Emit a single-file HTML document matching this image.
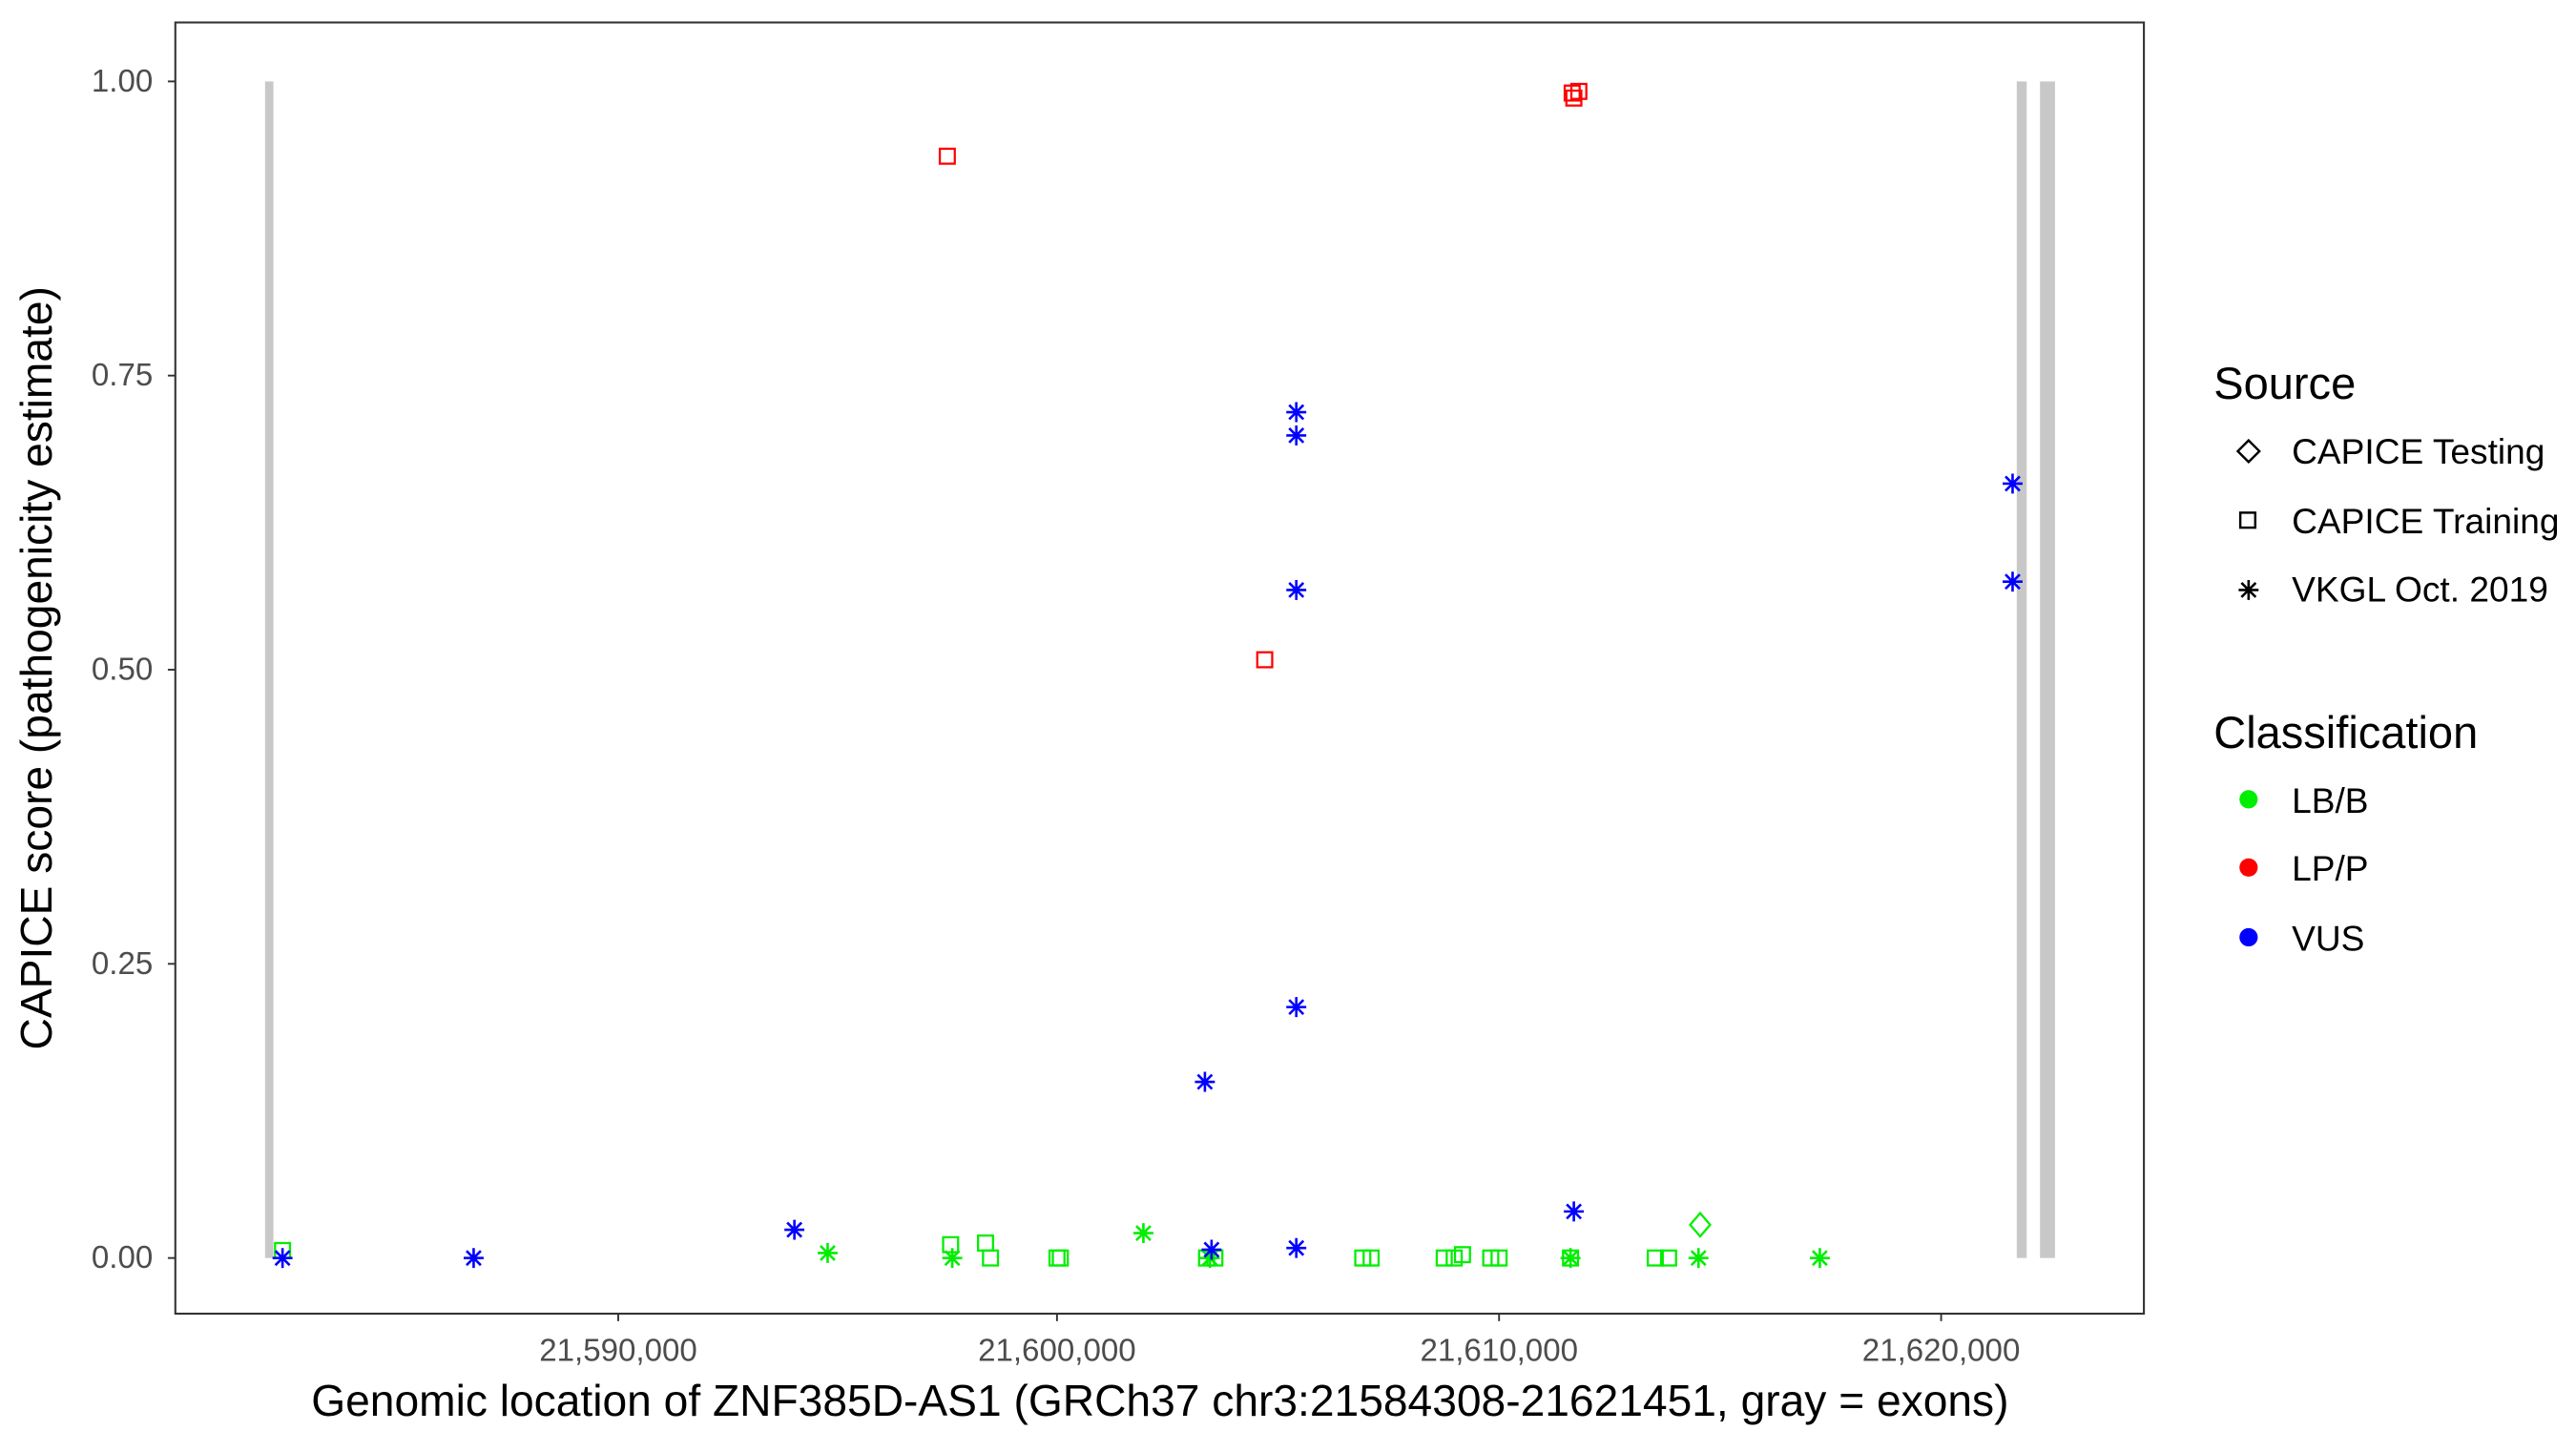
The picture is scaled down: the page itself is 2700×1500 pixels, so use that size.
<!DOCTYPE html>
<html><head><meta charset="utf-8"><style>html,body{margin:0;padding:0;background:#fff}svg{display:block}</style></head>
<body>
<svg width="2700" height="1500" viewBox="0 0 1550 861.1" xmlns="http://www.w3.org/2000/svg" font-family="Liberation Sans, Arial, sans-serif">
<defs>
<g id="st"><path d="M-6,0H6M0,-6V6M-4.3,-4.3L4.3,4.3M-4.3,4.3L4.3,-4.3" stroke-width="1.5" fill="none"/></g>
</defs>
<rect x="0" y="0" width="1550" height="861.1" fill="#fff"/>
<rect x="105.5" y="13.5" width="1184.5" height="777" fill="#fff" stroke="#333" stroke-width="1.2"/>
<rect x="159.5" y="49" width="5" height="708" fill="#c8c8c8"/>
<rect x="1213.5" y="49" width="6" height="708" fill="#c8c8c8"/>
<rect x="1227.5" y="49" width="9" height="708" fill="#c8c8c8"/>
<g stroke="#333" stroke-width="1.1">
<line x1="101" x2="105.5" y1="49" y2="49"/><line x1="101" x2="105.5" y1="226" y2="226"/>
<line x1="101" x2="105.5" y1="403" y2="403"/><line x1="101" x2="105.5" y1="580" y2="580"/>
<line x1="101" x2="105.5" y1="757" y2="757"/>
<line y1="790.5" y2="795" x1="372" x2="372"/><line y1="790.5" y2="795" x1="636" x2="636"/>
<line y1="790.5" y2="795" x1="902" x2="902"/><line y1="790.5" y2="795" x1="1168" x2="1168"/>
</g>
<g font-size="19" fill="#4d4d4d" text-anchor="end">
<text x="92" y="55">1.00</text><text x="92" y="232">0.75</text><text x="92" y="409">0.50</text>
<text x="92" y="586">0.25</text><text x="92" y="763">0.00</text>
</g>
<g font-size="19" fill="#4d4d4d" text-anchor="middle">
<text x="372" y="819">21,590,000</text><text x="636" y="819">21,600,000</text>
<text x="902" y="819">21,610,000</text><text x="1168" y="819">21,620,000</text>
</g>
<text x="698" y="852" font-size="26.5" text-anchor="middle">Genomic location of ZNF385D-AS1 (GRCh37 chr3:21584308-21621451, gray = exons)</text>
<text transform="translate(31,402) rotate(-90)" font-size="26.5" text-anchor="middle">CAPICE score (pathogenicity estimate)</text>
<g fill="none" stroke="#00ee00" stroke-width="1.3">
<rect x="165.5" y="748" width="9" height="9"/>
<rect x="567.5" y="744.5" width="9" height="9"/>
<rect x="588.5" y="743.5" width="9" height="9"/>
<rect x="591.5" y="752.5" width="9" height="9"/>
<rect x="631.5" y="752.5" width="9" height="9"/>
<rect x="633.5" y="752.5" width="9" height="9"/>
<rect x="721.5" y="752.5" width="9" height="9"/>
<rect x="726.5" y="752.5" width="9" height="9"/>
<rect x="815.5" y="752.5" width="9" height="9"/>
<rect x="820.5" y="752.5" width="9" height="9"/>
<rect x="864.5" y="752.5" width="9" height="9"/>
<rect x="870.5" y="752.5" width="9" height="9"/>
<rect x="875.5" y="750.5" width="9" height="9"/>
<rect x="892.5" y="752.5" width="9" height="9"/>
<rect x="897.5" y="752.5" width="9" height="9"/>
<rect x="991.5" y="752.5" width="9" height="9"/>
<rect x="999.5" y="752.5" width="9" height="9"/>
<rect x="940.5" y="752.5" width="9" height="9"/>
<path d="M1023,730L1029,737L1023,744L1017,737Z"/>
</g>
<g fill="none" stroke="#ff0000" stroke-width="1.3">
<rect x="565.5" y="89.5" width="9" height="9"/>
<rect x="756.5" y="392.5" width="9" height="9"/>
<rect x="941.5" y="51.5" width="9" height="9"/>
<rect x="945.5" y="50.5" width="9" height="9"/>
<rect x="942.5" y="54.5" width="9" height="9"/>
</g>
<g stroke="#00ee00">
<use href="#st" x="498" y="754"/><use href="#st" x="688" y="742"/><use href="#st" x="573" y="757"/>
<use href="#st" x="1022" y="757"/><use href="#st" x="1095" y="757"/><use href="#st" x="945" y="757"/>
<use href="#st" x="728" y="757"/>
</g>
<g stroke="#0000ff">
<use href="#st" x="780" y="248"/><use href="#st" x="780" y="262"/><use href="#st" x="780" y="355"/>
<use href="#st" x="780" y="606"/><use href="#st" x="725" y="651"/><use href="#st" x="1211" y="291"/>
<use href="#st" x="1211" y="350"/><use href="#st" x="947" y="729"/><use href="#st" x="478" y="740"/>
<use href="#st" x="285" y="757"/><use href="#st" x="170" y="757"/><use href="#st" x="729" y="752"/>
<use href="#st" x="780" y="751"/>
</g>
<text x="1332" y="240" font-size="27">Source</text>
<g font-size="21.3">
<text x="1379" y="279">CAPICE Testing</text>
<text x="1379" y="321">CAPICE Training</text>
<text x="1379" y="362">VKGL Oct. 2019</text>
</g>
<path d="M1353,265L1359.5,271.5L1353,278L1346.5,271.5Z" fill="none" stroke="#000" stroke-width="1.4"/>
<rect x="1348" y="308.5" width="9" height="9" fill="none" stroke="#000" stroke-width="1.4"/>
<g stroke="#000"><use href="#st" x="1353" y="355"/></g>
<text x="1332" y="450" font-size="27">Classification</text>
<g font-size="21.3">
<text x="1379" y="489">LB/B</text><text x="1379" y="530">LP/P</text><text x="1379" y="572">VUS</text>
</g>
<circle cx="1353" cy="481" r="5.5" fill="#00ee00"/>
<circle cx="1353" cy="522" r="5.5" fill="#ff0000"/>
<circle cx="1353" cy="564" r="5.5" fill="#0000ff"/>
</svg>
</body></html>
